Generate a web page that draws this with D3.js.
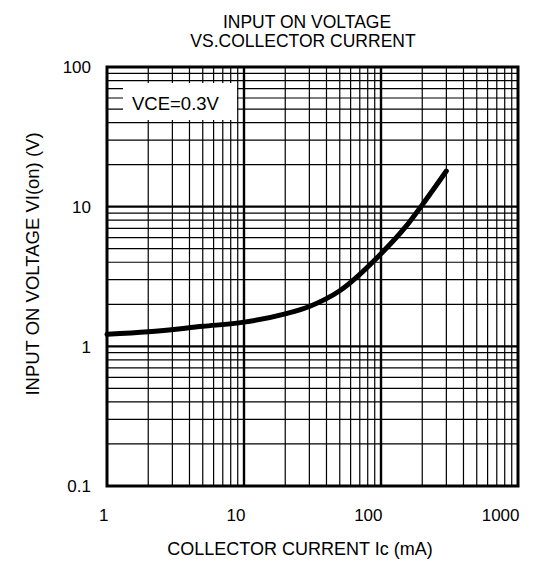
<!DOCTYPE html>
<html>
<head>
<meta charset="utf-8">
<script src="https://cdn.jsdelivr.net/npm/d3@7"></script>
<style>
  html, body { margin: 0; padding: 0; background: #fff; }
  text { font-family: "Liberation Sans", Arial, sans-serif; fill: #000; }
</style>
</head>
<body>
<svg id="chart" width="544" height="562"></svg>
<script>
// Data
const currentMA = [1, 2, 5, 10, 20, 30, 50, 100, 150, 200, 300];
const voltageV  = [1.22, 1.27, 1.39, 1.49, 1.71, 1.93, 2.5, 4.6, 7.1, 10.3, 18];
const xTicks = [1, 10, 100, 1000];
const yTicks = [0.1, 1, 10, 100];
const titleLines = ["INPUT ON VOLTAGE", "VS.COLLECTOR CURRENT"];
const xTitle = "COLLECTOR CURRENT Ic (mA)";
const yTitle = "INPUT ON VOLTAGE VI(on) (V)";
const note = "VCE=0.3V";

const svg = d3.select("#chart");
const L = 107, R = 518, T = 67, B = 486;
const x = d3.scaleLog().domain([1, 1000]).range([L, R]);
const y = d3.scaleLog().domain([0.1, 100]).range([B, T]);

function minors(lo, hi) {
  const out = [];
  for (let d = lo; d < hi; d *= 10)
    for (let k = 2; k <= 9; k++) out.push(d * k);
  return out;
}
const g = svg.append("g");
g.selectAll(".vx").data(minors(1, 1000)).join("line")
  .attr("x1", d => x(d)).attr("x2", d => x(d))
  .attr("y1", T).attr("y2", B)
  .attr("stroke", "#000").attr("stroke-width", 1.2);
g.selectAll(".hy").data(minors(0.1, 100)).join("line")
  .attr("y1", d => y(d)).attr("y2", d => y(d))
  .attr("x1", L).attr("x2", R)
  .attr("stroke", "#000").attr("stroke-width", 1.2);
g.selectAll(".mx").data([10, 100]).join("line")
  .attr("x1", d => x(d)).attr("x2", d => x(d))
  .attr("y1", T).attr("y2", B)
  .attr("stroke", "#000").attr("stroke-width", 2.4);
g.selectAll(".my").data([1, 10]).join("line")
  .attr("y1", d => y(d)).attr("y2", d => y(d))
  .attr("x1", L).attr("x2", R)
  .attr("stroke", "#000").attr("stroke-width", 2.4);

// note box
svg.append("rect").attr("x", 123).attr("y", 83).attr("width", 114).attr("height", 37).attr("fill", "#fff");
svg.append("text").attr("x", 132).attr("y", 110).attr("font-size", 18.5).text(note);

// border
svg.append("rect").attr("x", L).attr("y", T).attr("width", R - L).attr("height", B - T)
  .attr("fill", "none").attr("stroke", "#000").attr("stroke-width", 3);

// curve
const line = d3.line().x((d, i) => x(currentMA[i])).y(d => y(d)).curve(d3.curveMonotoneX);
svg.append("path").datum(voltageV).attr("d", line)
  .attr("fill", "none").attr("stroke", "#000").attr("stroke-width", 5)
  .attr("stroke-linecap", "round").attr("stroke-linejoin", "round");

// axes labels
const xAxis = d3.axisBottom(x).tickValues(xTicks).tickFormat(d3.format("d")).tickSize(0).tickPadding(0);
const xa = svg.append("g").attr("transform", `translate(1,${B})`).call(xAxis);
xa.select(".domain").remove();
xa.selectAll("text").attr("font-size", 17).attr("text-anchor", "end").attr("dy", null).attr("y", 35)
  .attr("font-family", "Liberation Sans, Arial, sans-serif").attr("fill", "#000");

const yAxis = d3.axisLeft(y).tickValues(yTicks).tickFormat(d => String(d)).tickSize(0).tickPadding(0);
const ya = svg.append("g").attr("transform", `translate(${91},0)`).call(yAxis);
ya.select(".domain").remove();
ya.selectAll("text").attr("font-size", 17).attr("x", 0).attr("dy", "0.35em")
  .attr("font-family", "Liberation Sans, Arial, sans-serif").attr("fill", "#000");

// titles
svg.append("text").attr("x", 307).attr("y", 28).attr("text-anchor", "middle").attr("font-size", 17.5).text(titleLines[0]);
svg.append("text").attr("x", 303).attr("y", 47).attr("text-anchor", "middle").attr("font-size", 17.5).text(titleLines[1]);
svg.append("text").attr("x", 300).attr("y", 555).attr("text-anchor", "middle").attr("font-size", 18).text(xTitle);
svg.append("text").attr("transform", "translate(39,264) rotate(-90)").attr("text-anchor", "middle").attr("font-size", 18.5).text(yTitle);
</script>
</body>
</html>
